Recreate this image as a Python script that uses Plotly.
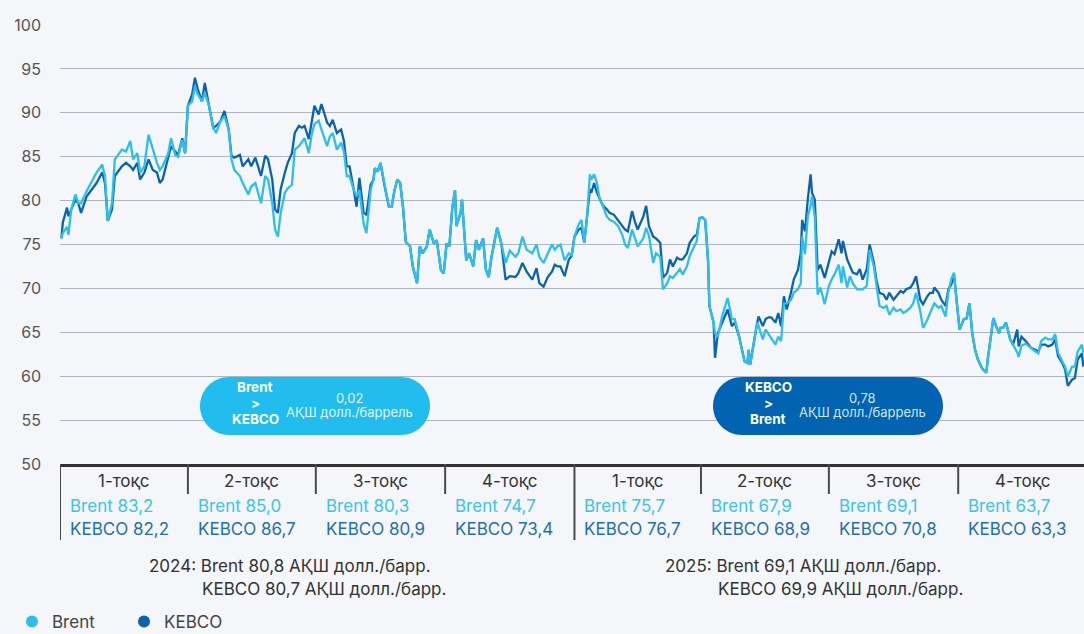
import pandas as pd
import plotly.graph_objects as go

# ---------------- data ----------------
# days since 2024-01-01
day_offset = [
    1, 2, 5, 6, 8, 11, 13, 15, 19, 23, 26, 30, 32, 34, 37, 39, 44, 47, 50, 52,
    55, 57, 60, 63, 66, 69, 71, 73, 77, 79, 82, 84, 87, 89, 91, 94, 96, 98, 101, 103,
    106, 109, 111, 114, 117, 120, 122, 124, 128, 130, 134, 136, 139, 143, 146, 148, 151, 153, 155, 157,
    160, 162, 165, 167, 170, 172, 174, 177, 179, 181, 184, 186, 190, 192, 194, 197, 200, 202, 204, 206,
    209, 211, 213, 216, 218, 221, 223, 224, 226, 228, 231, 234, 236, 238, 240, 242, 244, 246, 249, 251,
    254, 256, 258, 261, 263, 266, 268, 271, 273, 275, 277, 279, 281, 282, 285, 286, 289, 291, 294, 296,
    298, 301, 303, 305, 307, 311, 314, 317, 320, 324, 326, 329, 332, 336, 339, 341, 344, 347, 350, 352,
    354, 356, 359, 362, 364, 366, 369, 371, 373, 375, 377, 378, 380, 382, 384, 386, 389, 391, 394, 397,
    400, 402, 404, 407, 409, 411, 415, 417, 419, 422, 424, 427, 429, 432, 434, 436, 439, 441, 443, 446,
    448, 451, 453, 455, 457, 459, 461, 462, 465, 466, 468, 471, 473, 475, 478, 480, 483, 485, 487, 489,
    490, 491, 493, 496, 497, 500, 502, 504, 506, 509, 511, 513, 515, 517, 520, 522, 525, 527, 528, 530,
    532, 534, 535, 537, 539, 541, 544, 547, 549, 551, 554, 556, 557, 560, 562, 564, 567, 569, 571, 574,
    576, 579, 581, 583, 586, 588, 590, 593, 595, 598, 600, 602, 605, 607, 609, 612, 614, 617, 619, 621,
    622, 625, 627, 630, 632, 634, 636, 638, 640, 643, 645, 647, 649, 651, 653, 656, 659, 660, 662, 664,
    666, 668, 669, 671, 673, 676, 678, 681, 682, 684, 687, 689, 691, 694, 696, 698, 701, 703, 706, 708,
    710, 713, 715, 717, 720, 722, 724, 727, 728,
]

brent = [
    75.7, 76.3, 77.0, 76.1, 79.0, 80.7, 79.7, 79.7, 81.1, 82.4, 83.2, 84.1, 82.8, 77.7, 79.7, 84.7, 85.8, 85.6, 86.8, 84.7,
    85.4, 83.2, 83.9, 87.5, 85.8, 84.3, 83.5, 83.9, 85.4, 87.1, 85.2, 85.0, 86.9, 85.4, 90.8, 91.3, 93.0, 92.1, 91.3, 92.3,
    90.8, 88.3, 87.7, 89.0, 89.6, 88.1, 84.7, 83.5, 82.8, 82.0, 80.7, 81.6, 82.0, 79.7, 82.8, 82.4, 79.7, 76.7, 75.9, 78.6,
    80.9, 81.4, 81.8, 85.8, 86.2, 86.6, 87.1, 85.4, 87.5, 88.7, 89.1, 88.1, 86.2, 87.3, 87.7, 85.8, 86.6, 85.6, 82.8, 82.8,
    81.2, 80.5, 81.2, 77.4, 76.3, 81.2, 82.4, 83.7, 83.3, 84.3, 81.6, 79.3, 79.3, 81.2, 82.4, 82.0, 79.3, 75.3, 74.8, 72.5,
    70.6, 74.8, 74.0, 74.8, 76.7, 75.1, 75.5, 72.1, 71.7, 75.1, 74.8, 79.0, 81.2, 77.1, 78.6, 80.1, 73.2, 74.0, 72.5, 75.5,
    74.4, 75.7, 72.1, 71.3, 73.6, 76.9, 75.1, 72.9, 74.3, 73.6, 74.0, 75.9, 74.4, 74.0, 75.0, 73.6, 72.9, 74.0, 75.0, 74.4,
    74.8, 75.0, 73.2, 74.0, 73.7, 75.9, 77.3, 77.8, 75.2, 78.2, 83.0, 82.4, 83.0, 82.0, 80.1, 79.5, 78.2, 77.8, 77.6, 77.1,
    76.1, 75.0, 74.6, 76.7, 75.6, 74.8, 75.7, 76.9, 76.0, 72.9, 74.0, 73.6, 69.9, 70.6, 71.4, 71.2, 71.8, 72.2, 71.6, 72.5,
    73.7, 74.8, 75.4, 78.0, 78.1, 77.8, 73.3, 68.0, 66.1, 64.9, 64.5, 66.8, 68.0, 68.9, 66.5, 66.5, 64.6, 63.0, 61.7, 61.5,
    63.0, 61.3, 63.4, 66.1, 65.7, 64.2, 65.3, 64.8, 64.4, 63.6, 64.5, 64.0, 68.3, 68.3, 68.7, 69.5, 69.9, 70.6, 75.9, 73.9,
    78.2, 79.4, 80.5, 78.1, 69.3, 70.1, 68.2, 70.3, 71.0, 71.6, 72.7, 70.6, 72.5, 70.1, 71.4, 70.6, 69.9, 69.9, 69.9, 70.3,
    74.4, 72.5, 70.2, 68.0, 67.8, 68.0, 67.0, 67.8, 67.4, 67.6, 67.2, 67.4, 67.8, 68.3, 69.5, 67.4, 65.5, 66.4, 67.2, 68.0,
    68.3, 67.8, 68.0, 66.8, 69.5, 71.0, 71.8, 68.3, 65.3, 66.5, 66.6, 68.3, 64.9, 63.0, 61.9, 60.9, 60.4, 61.9, 64.2, 66.6,
    65.7, 64.9, 65.5, 65.5, 66.1, 64.2, 63.6, 62.7, 62.2, 63.5, 63.7, 63.4, 63.2, 62.8, 62.6, 64.0, 64.4, 64.2, 64.2, 64.8,
    62.7, 61.7, 61.1, 60.0, 61.1, 61.1, 62.8, 63.6, 62.6,
]

kebco = [
    75.7, 77.5, 79.2, 78.2, 79.0, 80.1, 79.7, 78.6, 80.5, 81.3, 82.0, 83.2, 82.0, 77.7, 79.0, 82.8, 83.9, 84.3, 83.9, 83.5,
    84.3, 82.4, 83.2, 84.7, 83.5, 83.2, 82.0, 82.4, 85.1, 86.2, 85.6, 85.2, 87.1, 85.4, 90.8, 92.1, 94.0, 92.7, 91.3, 93.4,
    90.8, 88.3, 88.5, 89.0, 90.2, 88.1, 85.1, 84.9, 85.2, 83.9, 84.7, 83.9, 84.9, 82.8, 85.1, 84.7, 82.4, 79.0, 78.6, 81.3,
    83.2, 84.3, 85.4, 87.7, 88.5, 88.3, 88.5, 87.0, 88.9, 90.8, 89.8, 91.0, 88.9, 88.5, 89.2, 87.7, 88.1, 86.8, 83.9, 83.9,
    81.2, 79.3, 82.6, 78.6, 78.4, 81.8, 82.4, 83.7, 83.3, 84.3, 81.6, 79.3, 79.3, 81.2, 82.4, 82.0, 79.3, 75.3, 74.8, 72.5,
    70.6, 74.8, 74.0, 74.8, 76.7, 75.1, 75.5, 72.1, 71.7, 75.1, 74.8, 79.0, 81.2, 77.1, 78.6, 80.1, 73.2, 74.0, 72.5, 75.5,
    74.4, 75.7, 72.1, 71.3, 73.6, 76.9, 75.1, 71.0, 71.4, 71.3, 71.7, 72.9, 71.9, 71.0, 72.3, 70.6, 70.2, 71.3, 71.9, 72.7,
    72.5, 72.5, 71.4, 73.3, 73.7, 75.9, 76.7, 76.9, 75.2, 78.2, 81.3, 80.9, 82.0, 80.9, 80.1, 79.5, 79.0, 78.6, 78.4, 77.8,
    77.1, 76.7, 76.5, 78.8, 77.6, 76.7, 78.2, 79.4, 77.1, 75.9, 75.7, 75.2, 71.2, 71.8, 73.3, 72.5, 73.5, 73.3, 73.3, 74.0,
    75.2, 75.9, 76.1, 78.0, 78.1, 77.8, 73.3, 68.0, 66.1, 62.1, 64.9, 66.1, 66.8, 67.6, 65.7, 66.1, 64.6, 63.0, 61.7, 61.5,
    63.0, 61.3, 63.4, 66.1, 66.8, 65.7, 66.5, 66.7, 66.7, 66.1, 67.2, 65.7, 69.1, 67.6, 69.5, 71.0, 72.1, 74.0, 77.8, 76.5,
    80.1, 83.0, 80.9, 80.1, 72.1, 72.7, 71.2, 72.9, 74.2, 73.9, 75.6, 74.0, 75.4, 73.3, 72.5, 71.8, 71.6, 72.2, 71.0, 72.2,
    75.0, 72.9, 70.8, 69.5, 69.3, 68.7, 69.5, 68.7, 69.1, 69.7, 69.5, 69.9, 70.1, 70.6, 71.4, 68.7, 68.2, 69.1, 69.5, 69.5,
    70.1, 69.5, 68.7, 68.0, 69.9, 70.4, 71.6, 68.3, 65.3, 66.5, 66.6, 68.3, 64.9, 63.0, 61.9, 60.9, 60.4, 61.9, 64.2, 66.6,
    65.7, 64.9, 65.5, 65.5, 66.1, 64.2, 63.6, 65.3, 63.4, 64.5, 64.0, 63.6, 63.2, 63.0, 62.8, 63.6, 63.6, 63.4, 63.6, 64.2,
    62.3, 61.5, 60.8, 58.9, 59.6, 59.8, 61.9, 62.6, 61.1,
]

quarter_labels = ["1-тоқс", "2-тоқс", "3-тоқс", "4-тоқс", "1-тоқс", "2-тоқс", "3-тоқс", "4-тоқс"]
quarter_starts = ["2024-01-01", "2024-04-01", "2024-07-01", "2024-10-01",
                  "2025-01-01", "2025-04-01", "2025-07-01", "2025-10-01"]
quarter_ends = ["2024-04-01", "2024-07-01", "2024-10-01", "2025-01-01",
                "2025-04-01", "2025-07-01", "2025-10-01", "2026-01-01"]
brent_q = [83.2, 85.0, 80.3, 74.7, 75.7, 67.9, 69.1, 63.7]
kebco_q = [82.2, 86.7, 80.9, 73.4, 76.7, 68.9, 70.8, 63.3]

years = ["2024", "2025"]
brent_year = [80.8, 69.1]
kebco_year = [80.7, 69.9]
spread_text = ["0,02", "0,78"]
spread_unit = "АҚШ долл./баррель"
spread_order = [("Brent", "KEBCO"), ("KEBCO", "Brent")]

# ---------------- style ----------------
FONT = "Inter"
BG = "#F4F6F9"
C_BRENT = "#2BBEEE"
C_KEBCO = "#0A63B0"
C_BRENT_TXT = "#3AC3F0"
C_KEBCO_TXT = "#1E6EB8"
C_TEXT = "#333333"

W, H = 1084, 634
ML, MR, MT, MB = 60, 0, 25, 170
PW, PH = W - ML - MR, H - MT - MB


def fmt(v):
    return f"{v:.1f}".replace(".", ",")


def px_x(px):
    return (px - ML) / PW


def px_y(py):
    return (H - MB - py) / PH


def fmt_date(ts):
    return ts.strftime("%Y-%m-%d %H:%M")


dates = pd.Timestamp("2024-01-01") + pd.to_timedelta(day_offset, unit="D")

fig = go.Figure()
fig.add_trace(go.Scatter(x=dates, y=kebco, mode="lines", name="KEBCO",
                         line=dict(color=C_KEBCO, width=2.3), showlegend=False))
fig.add_trace(go.Scatter(x=dates, y=brent, mode="lines", name="Brent",
                         line=dict(color=C_BRENT, width=2.3), showlegend=False))
# legend entries as round markers
fig.add_trace(go.Scatter(x=[None], y=[None], mode="markers", name="Brent",
                         marker=dict(color=C_BRENT, size=14)))
fig.add_trace(go.Scatter(x=[None], y=[None], mode="markers", name="KEBCO",
                         marker=dict(color=C_KEBCO, size=14)))

shapes = []
annotations = []

# quarter table dividers
for i, qs in enumerate(quarter_starts):
    full = qs.endswith("01-01")
    shapes.append(dict(type="line", xref="x", yref="paper", x0=qs, x1=qs,
                       y0=0, y1=px_y(540 if full else 494),
                       line=dict(color="#4A4A4A", width=2), layer="above"))

for i in range(len(quarter_labels)):
    s = pd.Timestamp(quarter_starts[i])
    e = pd.Timestamp(quarter_ends[i])
    mid = s + (e - s) / 2
    annotations.append(dict(x=fmt_date(mid), y=px_y(481), xref="x", yref="paper",
                            text=quarter_labels[i], showarrow=False, xanchor="center", yanchor="middle",
                            font=dict(family=FONT, size=17, color=C_TEXT)))
    annotations.append(dict(x=quarter_starts[i], y=px_y(506), xref="x", yref="paper", xshift=8,
                            text=f"Brent {fmt(brent_q[i])}", showarrow=False, xanchor="left", yanchor="middle",
                            font=dict(family=FONT, size=17, color=C_BRENT_TXT)))
    annotations.append(dict(x=quarter_starts[i], y=px_y(529), xref="x", yref="paper", xshift=8,
                            text=f"KEBCO {fmt(kebco_q[i])}", showarrow=False, xanchor="left", yanchor="middle",
                            font=dict(family=FONT, size=17, color=C_KEBCO_TXT)))

# annual averages
year_left = [147, 663]
year_indent = [200, 716]
for i, yr in enumerate(years):
    annotations.append(dict(x=px_x(year_left[i]), y=px_y(566), xref="paper", yref="paper",
                            text=f"{yr}: Brent {fmt(brent_year[i])} АҚШ долл./барр.", showarrow=False,
                            xanchor="left", yanchor="middle", font=dict(family=FONT, size=17, color=C_TEXT)))
    annotations.append(dict(x=px_x(year_indent[i]), y=px_y(589), xref="paper", yref="paper",
                            text=f"KEBCO {fmt(kebco_year[i])} АҚШ долл./барр.", showarrow=False,
                            xanchor="left", yanchor="middle", font=dict(family=FONT, size=17, color=C_TEXT)))


# pills
def pill_path(x0, x1, y0, y1):
    r = (y1 - y0) / 2
    yc = (y0 + y1) / 2
    k = 0.5523 * r

    def p(x, y):
        return f"{px_x(x):.5f},{px_y(y):.5f}"
    return (f"M {p(x0 + r, y0)} L {p(x1 - r, y0)} "
            f"C {p(x1 - r + k, y0)} {p(x1, yc - k)} {p(x1, yc)} "
            f"C {p(x1, yc + k)} {p(x1 - r + k, y1)} {p(x1 - r, y1)} "
            f"L {p(x0 + r, y1)} "
            f"C {p(x0 + r - k, y1)} {p(x0, yc + k)} {p(x0, yc)} "
            f"C {p(x0, yc - k)} {p(x0 + r - k, y0)} {p(x0 + r, y0)} Z")


pill_boxes = [(200, 430), (713, 943)]
pill_fill = ["#20BDEE", "#0064B2"]
pill_value_color = ["#E4F5FD", "#D5E2F0"]
pill_label_x = [255, 768]
pill_value_x = [349, 862]
for i in range(2):
    x0, x1 = pill_boxes[i]
    shapes.append(dict(type="path", xref="paper", yref="paper", path=pill_path(x0, x1, 377, 435),
                       fillcolor=pill_fill[i], line=dict(width=0), layer="above"))
    a, b = spread_order[i]
    for txt, yy in [(a, 387), ("&gt;", 403), (b, 419)]:
        annotations.append(dict(x=px_x(pill_label_x[i]), y=px_y(yy), xref="paper", yref="paper",
                                text=f"<b>{txt}</b>", showarrow=False,
                                xanchor="center", yanchor="middle",
                                font=dict(family=FONT, size=13.5, color="white")))
    annotations.append(dict(x=px_x(pill_value_x[i]), y=px_y(398), xref="paper", yref="paper",
                            text=spread_text[i], showarrow=False,
                            xanchor="center", yanchor="middle",
                            font=dict(family=FONT, size=13, color=pill_value_color[i])))
    annotations.append(dict(x=px_x(pill_value_x[i]), y=px_y(411.5), xref="paper", yref="paper",
                            text=spread_unit, showarrow=False,
                            xanchor="center", yanchor="middle",
                            font=dict(family=FONT, size=13, color=pill_value_color[i])))

fig.update_layout(
    width=W, height=H,
    margin=dict(l=ML, r=MR, t=MT, b=MB, autoexpand=False),
    paper_bgcolor=BG, plot_bgcolor=BG,
    font=dict(family=FONT, color=C_TEXT),
    xaxis=dict(type="date", range=["2024-01-01", "2025-12-29 12:00"], showgrid=False, zeroline=False,
               showticklabels=False, ticks="", showline=True, linecolor="#333333", linewidth=2.5),
    yaxis=dict(range=[50, 100], dtick=5, showgrid=True, gridcolor="#AEB6BF", gridwidth=1.3,
               zeroline=False, ticks="", ticklabelstandoff=18,
               tickfont=dict(family=FONT, size=16, color="#555555")),
    legend=dict(orientation="h", yref="container", x=px_x(12), y=(H - 622) / H,
                xanchor="left", yanchor="middle",
                font=dict(family=FONT, size=17, color="#444444"), bgcolor="rgba(0,0,0,0)",
                entrywidth=67, entrywidthmode="pixels", itemsizing="constant"),
    shapes=shapes,
    annotations=annotations,
    showlegend=True,
)

page_style = (
    "document.documentElement.style.margin='0';"
    "document.documentElement.style.overflow='hidden';"
    "document.body.style.margin='0';"
    "document.body.style.overflow='hidden';"
    f"document.body.style.background='{BG}';"
)
fig.write_html("out.html", post_script=page_style, config={"displayModeBar": False})
